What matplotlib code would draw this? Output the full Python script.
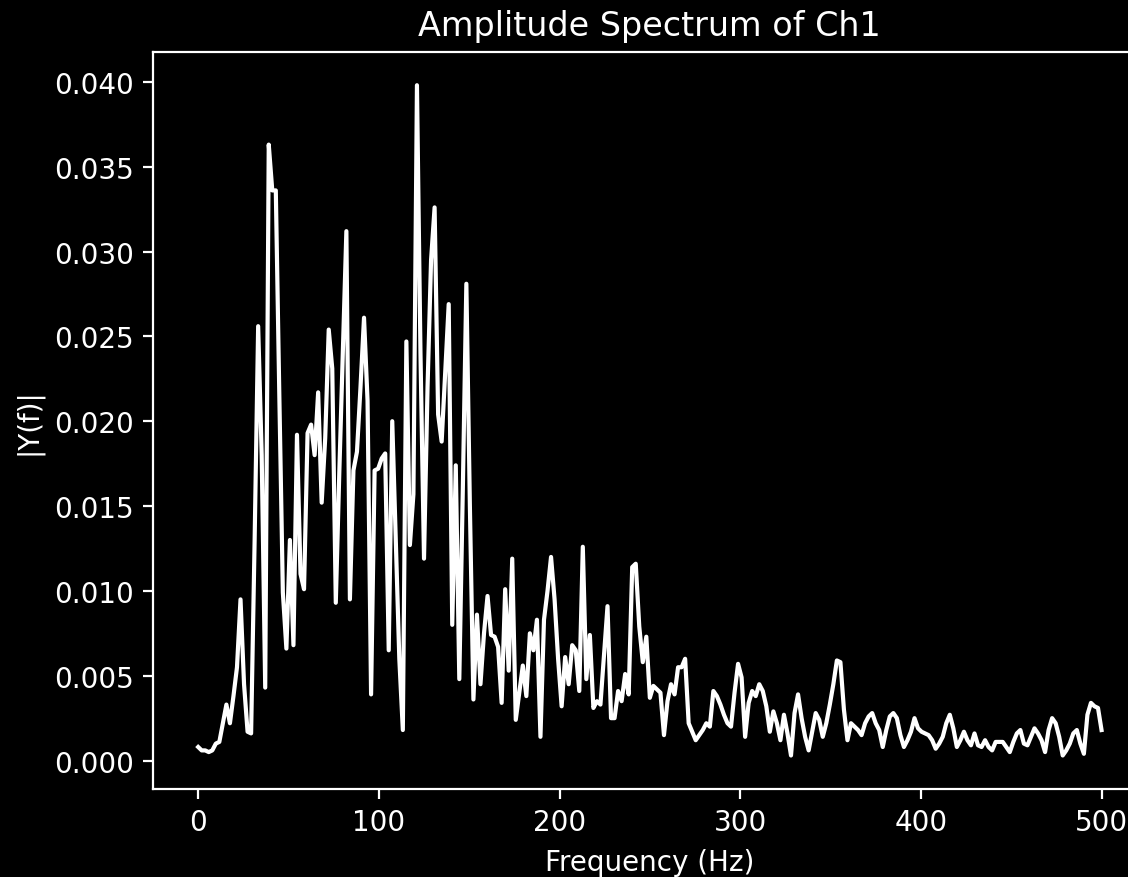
import numpy as np
import matplotlib
matplotlib.use("Agg")
import matplotlib.pyplot as plt

# one-sided FFT bins, 0..500 Hz
freqs = np.linspace(0, 500, 257)

amps = [
    0.0008, 0.0006, 0.0006, 0.0005, 0.0006, 0.0010, 0.0011, 0.0022, 0.0033, 0.0022,
    0.0038, 0.0055, 0.0095, 0.0045, 0.0017, 0.0016, 0.0130, 0.0256, 0.0180, 0.0043,
    0.0363, 0.0336, 0.0336, 0.0215, 0.0099, 0.0066, 0.0130, 0.0068, 0.0192, 0.0110,
    0.0101, 0.0193, 0.0198, 0.0180, 0.0217, 0.0152, 0.0190, 0.0254, 0.0231, 0.0093,
    0.0170, 0.0240, 0.0312, 0.0095, 0.0171, 0.0182, 0.0220, 0.0261, 0.0212, 0.0039,
    0.0171, 0.0172, 0.0178, 0.0181, 0.0065, 0.0200, 0.0130, 0.0060, 0.0018, 0.0247,
    0.0127, 0.0157, 0.0398, 0.0240, 0.0119, 0.0220, 0.0295, 0.0326, 0.0204, 0.0188,
    0.0228, 0.0269, 0.0080, 0.0174, 0.0048, 0.0160, 0.0281, 0.0150, 0.0036, 0.0086,
    0.0045, 0.0075, 0.0097, 0.0074, 0.0073, 0.0067, 0.0034, 0.0101, 0.0053, 0.0119,
    0.0024, 0.0040, 0.0056, 0.0038, 0.0075, 0.0065, 0.0083, 0.0014, 0.0083, 0.0100,
    0.0120, 0.0095, 0.0060, 0.0032, 0.0061, 0.0045, 0.0068, 0.0065, 0.0041, 0.0126,
    0.0048, 0.0074, 0.0031, 0.0035, 0.0033, 0.0062, 0.0091, 0.0025, 0.0025, 0.0041,
    0.0035, 0.0051, 0.0039, 0.0114, 0.0116, 0.0079, 0.0058, 0.0073, 0.0037, 0.0044,
    0.0042, 0.0040, 0.0015, 0.0035, 0.0045, 0.0039, 0.0055, 0.0055, 0.0060, 0.0022,
    0.0017, 0.0012, 0.0015, 0.0018, 0.0022, 0.0020, 0.0041, 0.0038, 0.0033, 0.0027,
    0.0022, 0.0020, 0.0040, 0.0057, 0.0049, 0.0014, 0.0034, 0.0041, 0.0038, 0.0045,
    0.0041, 0.0032, 0.0017, 0.0029, 0.0022, 0.0012, 0.0027, 0.0016, 0.0003, 0.0028,
    0.0039, 0.0025, 0.0014, 0.0006, 0.0017, 0.0028, 0.0024, 0.0014, 0.0022, 0.0033,
    0.0045, 0.0059, 0.0058, 0.0030, 0.0012, 0.0022, 0.0020, 0.0018, 0.0015, 0.0022,
    0.0026, 0.0028, 0.0022, 0.0018, 0.0008, 0.0018, 0.0026, 0.0028, 0.0025, 0.0015,
    0.0008, 0.0012, 0.0017, 0.0025, 0.0019, 0.0017, 0.0016, 0.0015, 0.0012, 0.0007,
    0.0010, 0.0014, 0.0022, 0.0027, 0.0019, 0.0008, 0.0012, 0.0017, 0.0012, 0.0009,
    0.0016, 0.0009, 0.0008, 0.0012, 0.0008, 0.0006, 0.0011, 0.0011, 0.0011, 0.0008,
    0.0005, 0.0011, 0.0016, 0.0018, 0.0010, 0.0009, 0.0014, 0.0019, 0.0016, 0.0012,
    0.0005, 0.0018, 0.0025, 0.0022, 0.0014, 0.0003, 0.0006, 0.0010, 0.0016, 0.0018,
    0.0010, 0.0004, 0.0027, 0.0034, 0.0032, 0.0031, 0.0018,
]

plt.style.use('dark_background')

fig = plt.figure(figsize=(5.64, 4.39), dpi=200)
# the original screenshot is cropped, so the axes run past the right edge
ax = fig.add_axes([153 / 1128, 88 / 878, 993.7 / 1128, 737.3 / 878])
ax.plot(freqs, amps, color='white', linewidth=1.5)

ax.set_title('Amplitude Spectrum of Ch1')
ax.set_xlabel('Frequency (Hz)')
ax.set_ylabel('|Y(f)|')

fig.savefig('out.png', dpi=200)
